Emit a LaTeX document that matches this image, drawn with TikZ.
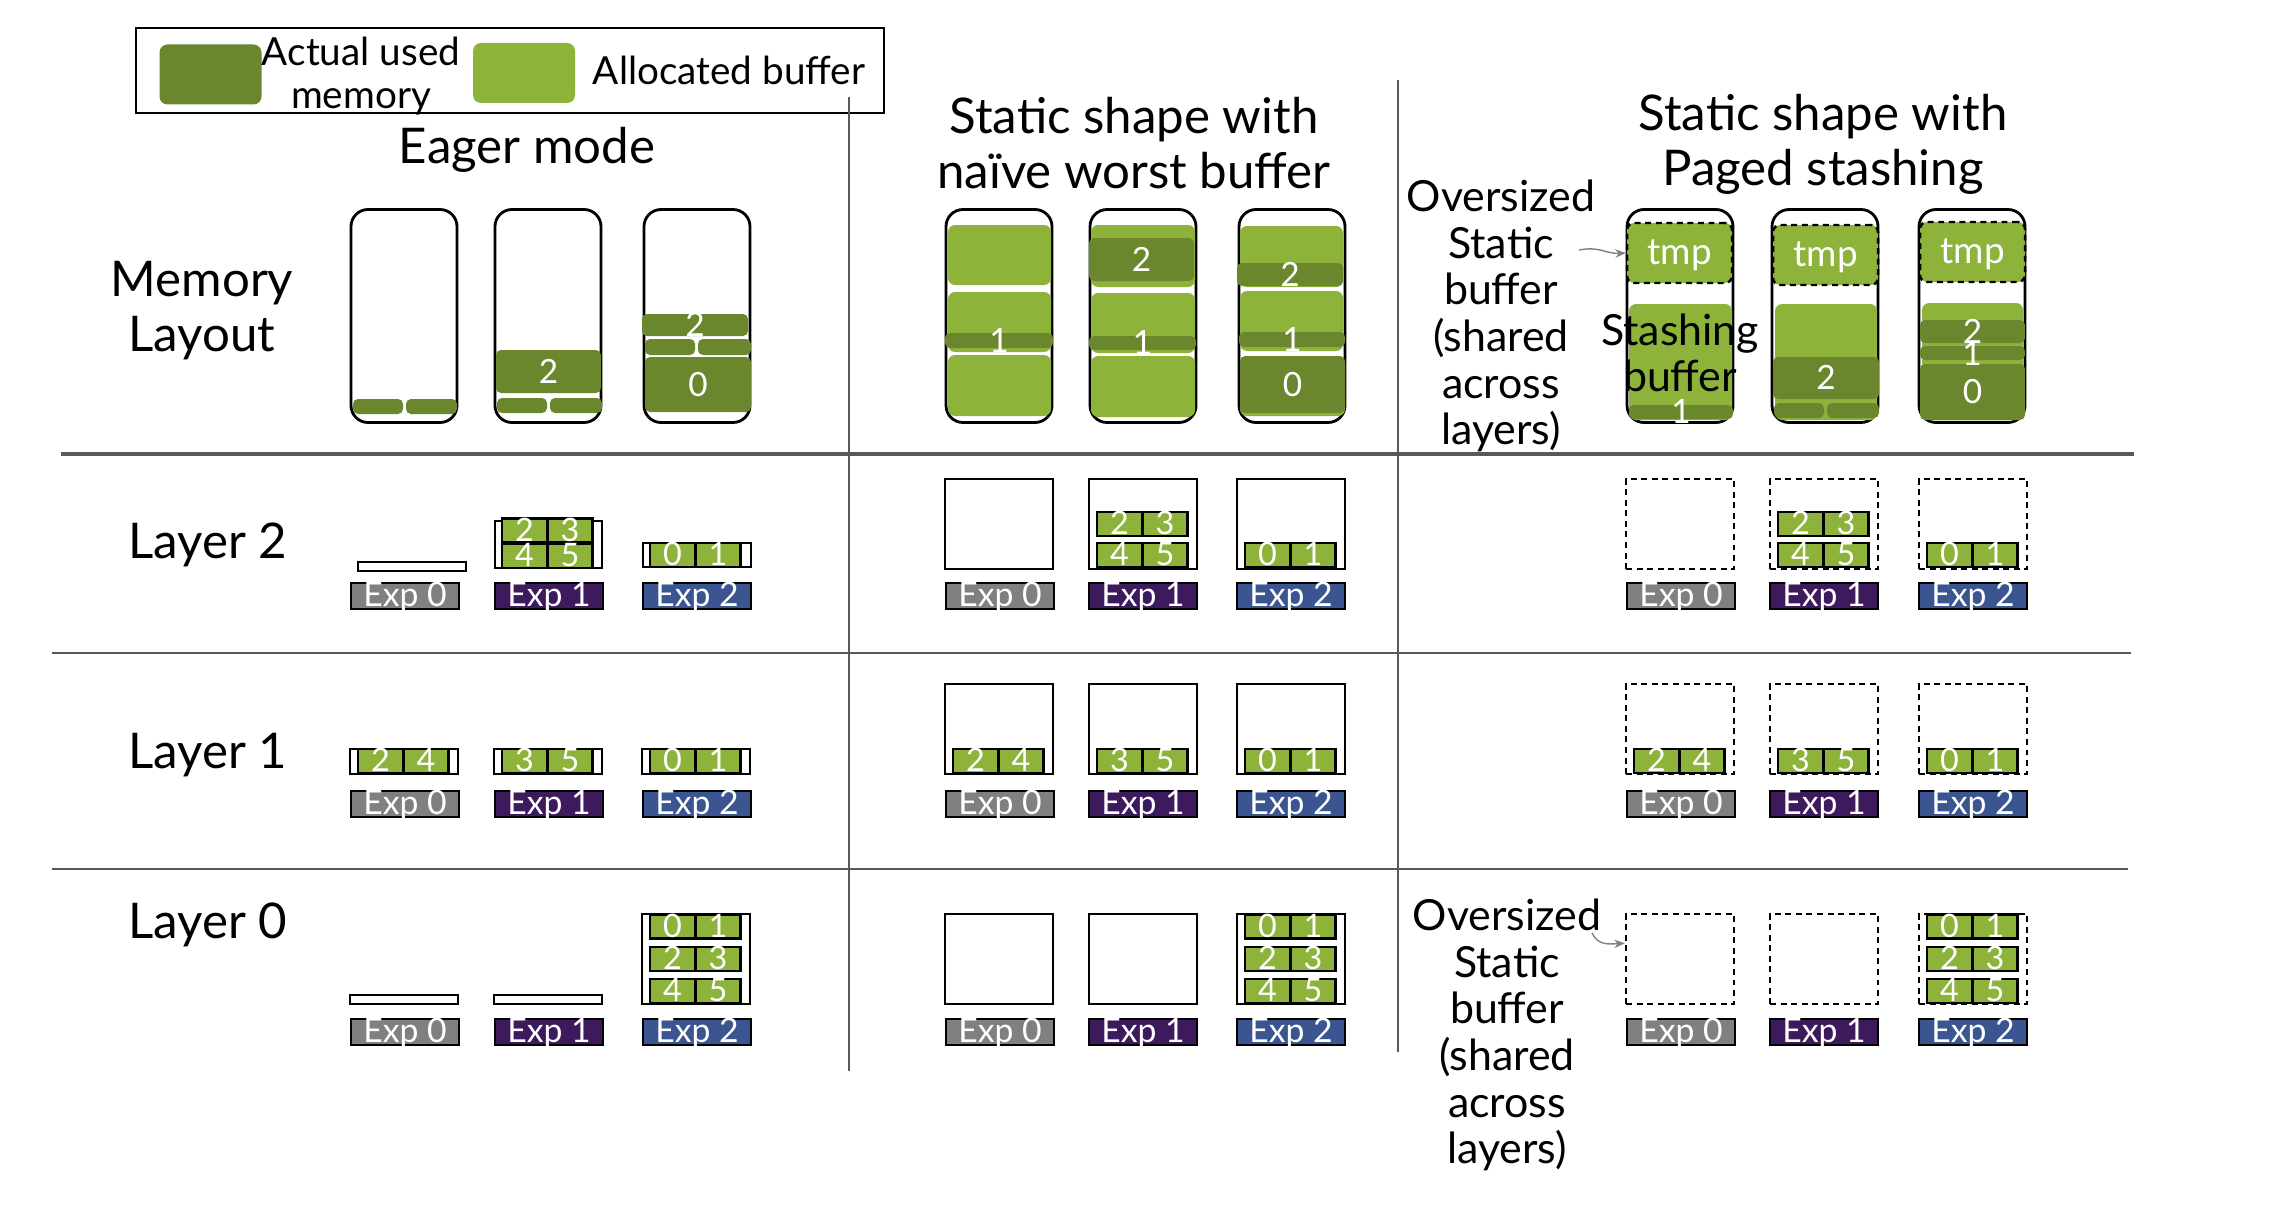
\documentclass[tikz,border=0pt]{standalone}
\usepackage{fontspec}
\setmainfont{Lato}
\usepackage{tikz}
\usetikzlibrary{arrows.meta,positioning,calc}
\definecolor{usedgreen}{HTML}{6B872E}
\definecolor{allocgreen}{HTML}{8DB33B}
\definecolor{expzero}{HTML}{808080}
\definecolor{expone}{HTML}{3C1A5B}
\definecolor{exptwo}{HTML}{3A5590}
\definecolor{divgray}{HTML}{595959}
\newcommand{\titlefont}{\fontsize{14}{15.6}\selectfont}
\newcommand{\notefont}{\fontsize{12.2}{13.3}\selectfont}
\newcommand{\legfont}{\fontsize{11}{12}\selectfont}
\newcommand{\expfont}{\fontsize{9.6}{9.6}\selectfont}
\newcommand{\cellfont}{\fontsize{9.2}{9.2}\selectfont}
\newcommand{\blkfont}{\fontsize{9.5}{9.5}\selectfont}
\newcommand{\tmpfont}{\fontsize{10.5}{10.5}\selectfont}
\tikzset{
  legendframe/.style={draw=black, line width=0.6pt, minimum width=74.8mm, minimum height=8.5mm, inner sep=0pt},
  swatch/.style={rounded corners=0.8mm, minimum width=10.2mm, minimum height=6mm, inner sep=0pt},
  legtext/.style={align=center, font=\legfont, inner sep=0pt},
  title/.style={align=center, font=\titlefont, inner sep=0pt},
  note/.style={align=center, font=\notefont, inner sep=0pt},
  divider/.style={draw=divgray, line width=0.6pt},
  layoutbox/.style={draw=black, line width=0.8pt, fill=white, rounded corners=1.7mm,
    minimum width=10.6mm, minimum height=21.3mm, inner sep=0pt},
  usedblk/.style={fill=usedgreen, rounded corners=0.5mm, inner sep=0pt},
  allocblk/.style={fill=allocgreen, rounded corners=0.7mm, inner sep=0pt},
  tmpblk/.style={allocblk, draw=black, line width=0.7pt, dash pattern=on 1.7pt off 1.3pt},
  blklabel/.style={text=white, font=\blkfont, inner sep=0pt, text height=6.7pt, text depth=0pt},
  holder/.style={draw=black, line width=0.7pt, fill=white, inner sep=0pt, minimum width=10.8mm},
  staticbuf/.style={holder, minimum height=9mm},
  pagedbuf/.style={staticbuf, dash pattern=on 1.7pt off 1.3pt},
  expcell/.style={draw=black, line width=0.6pt, fill=allocgreen, minimum width=4.5mm, minimum height=2.4mm,
    inner sep=0pt, text=white, font=\cellfont, text height=6pt, text depth=0pt},
  explabel/.style={draw=black, line width=0.7pt, minimum width=10.8mm, minimum height=2.6mm,
    inner sep=0pt, text=white, font=\expfont, text height=6pt, text depth=0pt},
  pointer/.style={draw=gray, line width=0.4pt, -{Stealth[length=3pt, width=2.4pt]}}
}
% block from corner (x1,y1) to (x2,y2), label on top
\newcommand{\memblk}[7]{%
  \node[#1, minimum width={(#5-#3)*0.1mm}, minimum height={(#6-#4)*0.1mm}]
    (#2) at ({(#3+#5)/2},{(#4+#6)/2}) {};
  \node[blklabel] (#2-l) at (#2.center) {#7};}
% two expert cells side by side
\newcommand{\cellpair}[5]{%
  \node[expcell] (#1l) at (#2-23.5,#3) {#4};
  \node[expcell] (#1r) at (#2+22,#3) {#5};}

\begin{document}
\begin{tikzpicture}[x=0.1mm, y=-0.1mm]
\useasboundingbox (0,0) rectangle (2276,1226);

% legend
\node[legendframe] (legend) at (510,70.5) {};
\node[swatch, fill=usedgreen] (usedkey) at (210.5,74.5) {};
\node[legtext] (usedtext) at (361,76) {Actual used\\memory};
\node[swatch, fill=allocgreen] (allockey) at (524,73) {};
\node[legtext] (alloctext) at (729,70) {Allocated buffer};

% section dividers
\draw[divider] (849,97) -- (849,1071);
\draw[divider] (1398,80) -- (1398,1052);
\draw[divider, line width=1.3pt] (61,454) -- (2134,454);
\draw[divider, line width=0.5pt] (52,653) -- (2131,653);
\draw[divider, line width=0.5pt] (52,869) -- (2128,869);

% headings
\node[title] (eagertitle) at (527,150) {Eager mode};
\node[title] (naivetitle) at (1134,143) {Static shape with\\naïve worst buffer};
\node[title] (pagedtitle) at (1823,144) {Static shape with\\Paged stashing};
\node[title] (memtitle) at (202,311) {Memory\\Layout};
\node[title] (layer2) at (208,545) {Layer 2};
\node[title] (layer1) at (208,755) {Layer 1};
\node[title] (layer0) at (208,925) {Layer 0};

% memory layout row
\foreach \cx [count=\i] in {404,548,697,999,1143,1292,1680,1825,1972}
  \node[layoutbox] (mem\i) at (\cx,316) {};

\memblk{usedblk}{e1a}{353}{399}{403}{414}{}
\memblk{usedblk}{e1b}{406}{399}{457}{414}{}
\memblk{usedblk}{e2top}{496}{350}{601}{393}{2}
\memblk{usedblk}{e2a}{497}{398}{547}{413}{}
\memblk{usedblk}{e2b}{550}{398}{602}{413}{}
\memblk{usedblk}{e3top}{642}{314}{748}{336}{2}
\memblk{usedblk}{e3a}{645}{339}{695}{355}{}
\memblk{usedblk}{e3b}{698}{339}{751}{355}{}
\memblk{usedblk}{e3bot}{645}{357}{751}{412}{0}

\memblk{allocblk}{n1a}{948}{225}{1051}{285}{}
\memblk{allocblk}{n1b}{948}{292}{1051}{352}{}
\memblk{allocblk}{n1c}{948}{355}{1051}{416}{}
\memblk{usedblk}{n1u}{945}{333}{1053}{348}{1}
\memblk{allocblk}{n2a}{1091}{225}{1195}{287}{}
\memblk{usedblk}{n2u}{1089}{238}{1194}{281}{2}
\memblk{allocblk}{n2b}{1091}{293}{1195}{353}{}
\memblk{allocblk}{n2c}{1091}{356}{1195}{417}{}
\memblk{usedblk}{n2v}{1089}{336}{1196}{350}{1}
\memblk{allocblk}{n3a}{1240}{226}{1343}{287}{}
\memblk{usedblk}{n3u}{1237}{263}{1343}{286}{2}
\memblk{allocblk}{n3b}{1240}{291}{1343}{351}{}
\memblk{usedblk}{n3v}{1239}{332}{1345}{347}{1}
\memblk{allocblk}{n3c}{1240}{356}{1345}{416}{}
\memblk{usedblk}{n3w}{1240}{356}{1345}{413}{0}

\memblk{tmpblk}{p1tmp}{1627}{223}{1732}{283}{\tmpfont tmp}
\memblk{allocblk}{p1a}{1629}{304}{1732}{420}{}
\memblk{usedblk}{p1u}{1629}{405}{1733}{419}{1}
\node[note] (stash) at (1680,353) {Stashing\\buffer};
\memblk{tmpblk}{p2tmp}{1773}{225}{1878}{285}{\tmpfont tmp}
\memblk{allocblk}{p2a}{1775}{304}{1877}{420}{}
\memblk{usedblk}{p2u}{1773}{357}{1879}{399}{2}
\memblk{usedblk}{p2v}{1774}{403}{1824}{418}{}
\memblk{usedblk}{p2w}{1827}{403}{1879}{418}{}
\memblk{tmpblk}{p3tmp}{1920}{222}{2025}{282}{\tmpfont tmp}
\memblk{allocblk}{p3a}{1922}{303}{2023}{420}{}
\memblk{usedblk}{p3u}{1920}{320}{2025}{343}{2}
\memblk{usedblk}{p3v}{1920}{346}{2025}{360}{}
\memblk{usedblk}{p3w}{1920}{364}{2025}{420}{0}
\node[blklabel] (p3one) at (1972,354) {1};

\node[note] (ovtop) at (1501,316) {Oversized\\Static\\buffer\\(shared\\across\\layers)};
\node[note] (ovbot) at (1507,1035) {Oversized\\Static\\buffer\\(shared\\across\\layers)};

% expert buffers per layer
\node[holder, minimum height=0.9mm] (e2A) at (412,566.5) {};
\node[holder, minimum width=10.7mm, minimum height=4.7mm] (e2B) at (548.5,544.5) {};
\node[holder, minimum height=2.4mm] (e2C) at (697,555) {};
\foreach \cx in {404,548,696}
  \node[holder, minimum height=2.5mm] (e1-\cx) at (\cx,761.5) {};
\node[holder, minimum height=0.9mm] (e0A) at (404,999.5) {};
\node[holder, minimum height=0.9mm] (e0B) at (548,999.5) {};
\node[holder, minimum height=9mm] (e0C) at (696,959) {};

\foreach \ly/\yy in {2/524, 1/729, 0/959} {
  \foreach \cx in {999,1143,1291}
    \node[staticbuf] (n\ly-\cx) at (\cx,\yy) {};
  \foreach \cx in {1680,1824,1973}
    \node[pagedbuf] (p\ly-\cx) at (\cx,\yy) {};
}

% layer 2
\cellpair{e2Bt}{548}{530.5}{2}{3}
\cellpair{e2Bb}{548}{556}{4}{5}
\cellpair{e2Ct}{696}{555}{0}{1}
\cellpair{n2Bt}{1143}{524}{2}{3}
\cellpair{n2Bb}{1143}{555}{4}{5}
\cellpair{n2Ct}{1291}{555}{0}{1}
\cellpair{p2Bt}{1824}{524}{2}{3}
\cellpair{p2Bb}{1824}{555}{4}{5}
\cellpair{p2Ct}{1973}{555}{0}{1}
% layer 1
\foreach \sec/\ca/\cb/\cc in {e/404/548/696, n/999/1143/1291, p/1680/1824/1973} {
  \cellpair{\sec1A}{\ca}{761}{2}{4}
  \cellpair{\sec1B}{\cb}{761}{3}{5}
  \cellpair{\sec1C}{\cc}{761}{0}{1}
}
% layer 0
\foreach \sec/\cc in {e/696, n/1291, p/1973} {
  \cellpair{\sec0a}{\cc}{926.5}{0}{1}
  \cellpair{\sec0b}{\cc}{959}{2}{3}
  \cellpair{\sec0c}{\cc}{991}{4}{5}
}

% expert tags
\foreach \cx/\k/\col in {405/0/expzero, 549/1/expone, 697/2/exptwo,
    1000/0/expzero, 1143/1/expone, 1291/2/exptwo,
    1681/0/expzero, 1824/1/expone, 1973/2/exptwo}
  \foreach \ly/\yy in {2/596, 1/804, 0/1032}
    \node[explabel, fill=\col] (x\cx-\ly) at (\cx,\yy) {Exp \k};

% pointers to the oversized buffer
\coordinate (ovtopend) at (1579,250);
\draw[pointer] (ovtopend) .. controls (1600,246) and (1605,254) .. (p1tmp.west);
\coordinate (ovbotend) at (1592,933);
\coordinate (p0hit) at ($(p0-1680.north west)!0.33!(p0-1680.south west)$);
\draw[pointer] (ovbotend) .. controls (1598,946) and (1610,944) .. (p0hit);
\end{tikzpicture}
\end{document}
